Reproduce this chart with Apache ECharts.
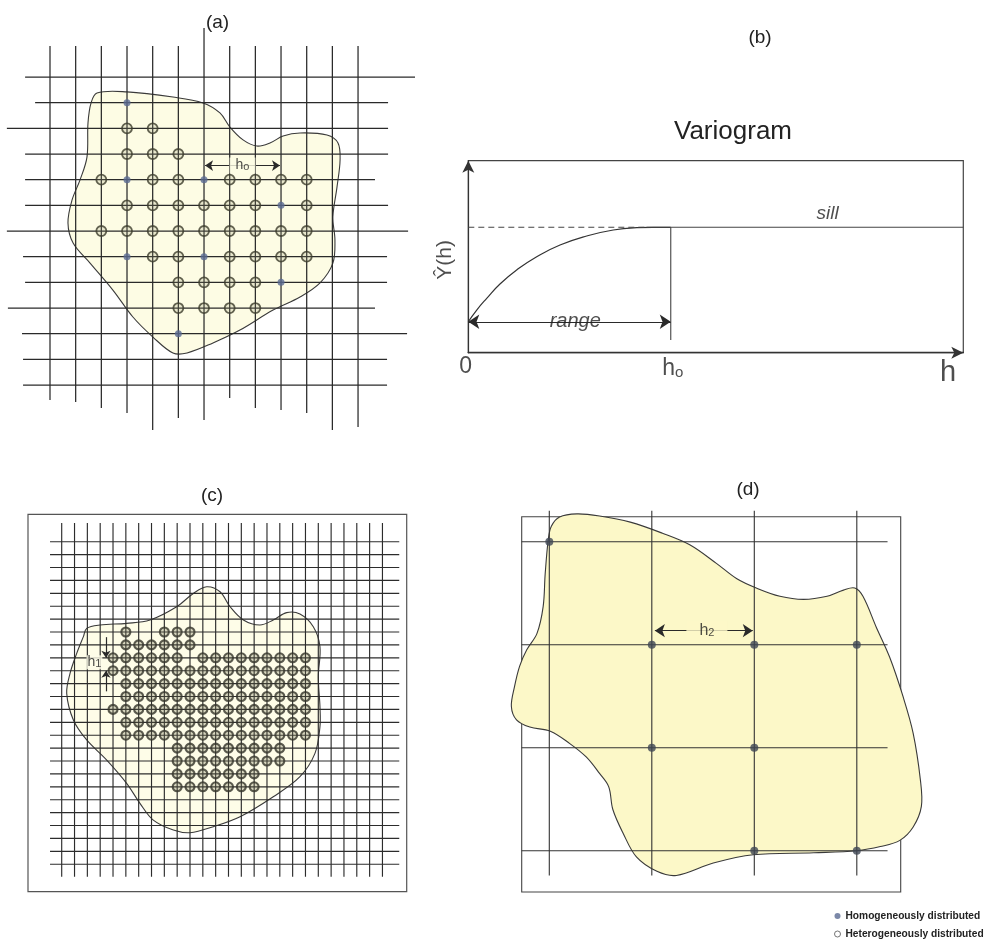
<!DOCTYPE html>
<html><head><meta charset="utf-8">
<script src="https://cdn.jsdelivr.net/npm/echarts@6/dist/echarts.min.js"></script>
<style>html,body{margin:0;padding:0;background:#fff}#c{width:990px;height:951px}</style>
</head><body><div id="c"></div>
<script>
// ================= DATA =================
// ---- Panel (a): coarse sampling grid, units = grid cells (col index, row index) ----
const aRowStart  = [-0.97,-0.58,-1.68,-0.97,-0.97,-0.97,-1.68,-1.05,-0.97,-1.64,-1.09,-1.05,-1.05];
const aRowEnd    = [14.22,13.17,13.17,13.17,12.66,13.17,13.95,13.13,13.13,12.66,13.91,13.13,13.13];
const aColTop    = [-1.21,-1.21,-1.21,-1.21,-1.21,-1.21,-1.91,-1.21,-1.21,-1.21,-1.21,-1.21,-1.21];
const aColBottom = [12.58,12.66,12.89,13.09,13.75,13.28,13.36,12.50,12.89,12.97,13.09,13.75,13.63];
const aHetero = [[3,2],[4,2],[3,3],[4,3],[5,3],
  [2,4],[4,4],[5,4],[7,4],[8,4],[9,4],[10,4],
  [3,5],[4,5],[5,5],[6,5],[7,5],[8,5],[10,5],
  [2,6],[3,6],[4,6],[5,6],[6,6],[7,6],[8,6],[9,6],[10,6],
  [4,7],[5,7],[7,7],[8,7],[9,7],[10,7],
  [5,8],[6,8],[7,8],[8,8],
  [5,9],[6,9],[7,9],[8,9]];
const aHomog = [[3,1],[3,4],[6,4],[9,5],[3,7],[6,7],[9,8],[5,10]];
const aBlob = [[1.83,0.62],[3.0,0.58],[4.79,0.78],[5.96,1.01],[6.62,1.40],[7.01,1.95],[7.52,2.45],[8.06,2.69],
  [8.57,2.57],[9.08,2.30],[9.74,2.18],[10.79,2.26],[11.22,2.57],[11.30,3.23],[11.18,4.29],[11.02,5.45],
  [11.10,6.35],[11.02,7.25],[10.52,8.02],[9.74,8.57],[8.69,9.08],[7.40,9.86],[6.35,10.36],[5.34,10.75],
  [4.79,10.75],[4.01,10.13],[3.23,9.35],[2.45,8.30],[1.56,7.25],[0.90,6.47],[0.70,5.69],[0.86,4.79],
  [1.17,4.01],[1.44,3.12],[1.48,1.79],[1.60,1.01]];
const aLagFrom = 6.04, aLagTo = 8.96, aLagRow = 3.45;

// ---- Panel (b): variogram, units: h 0..100, gamma 0..100 ----
const bCurve = [[0,16.1],[1.7,22.2],[3.72,28.3],[6.4,35.8],[9.78,43.1],[13.82,50.0],[18.53,56.1],
  [23.92,60.8],[29.29,63.9],[34.02,65.1],[37.37,65.3],[40.9,65.3]];
const bSill = 65.3, bH0 = 40.9, bNugget = 16.1, bDashEnd = 36, bH0Bottom = 6.6;

// ---- Panel (c): fine grid (cell units) ----
const cLines = [0,1,2,3,4,5,6,7,8,9,10,11,12,13,14,15,16,17,18,19,20,21,22,23,24,25];
const cRowStart = -0.91, cRowEnd = 26.31, cColTop = -1.45, cColBottom = 25.97;
const cDotRows = {
  7:[5,8,9,10],
  8:[5,6,7,8,9,10],
  9:[4,5,6,7,8,9,11,12,13,14,15,16,17,18,19],
  10:[4,5,6,7,8,9,10,11,12,13,14,15,16,17,18,19],
  11:[5,6,7,8,9,10,11,12,13,14,15,16,17,18,19],
  12:[5,6,7,8,9,10,11,12,13,14,15,16,17,18,19],
  13:[4,5,6,7,8,9,10,11,12,13,14,15,16,17,18,19],
  14:[5,6,7,8,9,10,11,12,13,14,15,16,17,18,19],
  15:[5,6,7,8,9,10,11,12,13,14,15,16,17,18,19],
  16:[9,10,11,12,13,14,15,16,17],
  17:[9,10,11,12,13,14,15,16,17],
  18:[9,10,11,12,13,14,15],
  19:[9,10,11,12,13,14,15]
};
const cBlob = [[1.95,6.72],[2.99,6.46],[5.06,6.33],[6.88,6.07],[8.96,5.04],[10.26,4.01],[11.30,3.49],
  [12.34,3.88],[13.12,5.04],[14.16,6.07],[15.45,6.46],[16.49,6.07],[17.53,5.50],[18.57,5.61],[19.61,6.59],
  [20.13,8.14],[20.00,10.47],[20.13,12.79],[20.13,14.34],[19.74,16.41],[18.57,18.22],[16.49,19.77],
  [13.90,21.32],[11.82,22.09],[10.0,22.56],[8.70,22.35],[7.14,21.58],[6.10,20.28],[5.06,18.73],
  [3.51,16.93],[1.95,15.37],[0.91,13.82],[0.39,11.76],[0.65,10.21],[1.17,8.66],[1.69,7.36]];
const cLagX = 3.45, cLagRows = [9,10];

// ---- Panel (d): coarse grid (cell units) ----
const dLines = [0,1,2,3];
const dRowStart = -0.27, dRowEnd = 3.30, dColTop = -0.30, dColBottom = 3.24;
const dDots = [[0,0],[1,1],[2,1],[3,1],[1,2],[2,2],[2,3],[3,3]];
const dBlob = [[0.02,-0.15],[0.10,-0.24],[0.27,-0.27],[0.49,-0.25],[0.79,-0.19],[1.11,-0.08],[1.37,0.03],
  [1.63,0.21],[1.83,0.36],[2.02,0.45],[2.25,0.53],[2.48,0.56],[2.71,0.53],[2.87,0.47],[2.98,0.45],[3.06,0.53],
  [3.19,0.83],[3.32,1.12],[3.45,1.50],[3.55,1.86],[3.62,2.31],[3.63,2.57],[3.55,2.77],[3.42,2.90],[3.23,2.96],
  [3.00,3.00],[2.58,3.02],[1.99,3.04],[1.60,3.12],[1.24,3.24],[1.05,3.20],[0.85,3.06],[0.72,2.83],[0.62,2.60],
  [0.58,2.38],[0.49,2.25],[0.36,2.09],[0.20,1.96],[0.01,1.84],[-0.19,1.80],[-0.32,1.73],[-0.37,1.60],
  [-0.34,1.41],[-0.29,1.21],[-0.22,1.05],[-0.12,0.89],[-0.06,0.63],[-0.04,0.31],[-0.01,-0.02]];
const dLagFrom = 1.03, dLagTo = 1.985, dLagRow = 0.864;

const seriesHomog = 'Homogeneously distributed';
const seriesHetero = 'Heterogeneously distributed';

// ================= LAYOUT =================
const FONT = '"Liberation Sans", Arial, Helvetica, sans-serif';
const A = {cx:25.67, cy:25.67, ox:50, oy:77, xMin:-1.9, xMax:14.5, yMin:-2, yMax:14.5};
const C = {cx:12.83, cy:12.9, ox:61.7, oy:541.7, box:[28,514.3,406.7,891.7]};
const D = {cx:102.5, cy:103, ox:549.3, oy:541.7, box:[521.7,516.7,900.7,892]};
const B = {box:[468.3,160.7,963.3,352.7]};
C.xMin=(C.box[0]-C.ox)/C.cx; C.xMax=(C.box[2]-C.ox)/C.cx; C.yMin=(C.box[1]-C.oy)/C.cy; C.yMax=(C.box[3]-C.oy)/C.cy;
D.xMin=(D.box[0]-D.ox)/D.cx; D.xMax=(D.box[2]-D.ox)/D.cx; D.yMin=(D.box[1]-D.oy)/D.cy; D.yMax=(D.box[3]-D.oy)/D.cy;

// ================= BUILD =================
function segRender(color, width){
  return function(params, api){
    const p1 = api.coord([api.value(0), api.value(1)]);
    const p2 = api.coord([api.value(2), api.value(3)]);
    return {type:'line', silent:true, shape:{x1:p1[0],y1:p1[1],x2:p2[0],y2:p2[1]}, style:{stroke:color, lineWidth:width}};
  };
}
function blobRender(points, fill){
  return function(params, api){
    const pts = points.map(p => api.coord(p));
    return {type:'polygon', silent:true, shape:{points:pts, smooth:0.35}, style:{fill:fill, stroke:'#3a3a3a', lineWidth:1.1}};
  };
}
function segSeries(idx, data, color, width, z){
  return {type:'custom', xAxisIndex:idx, yAxisIndex:idx, renderItem:segRender(color,width), data:data, z:z, silent:true, animation:false};
}
function blobSeries(idx, pts, fill){
  return {type:'custom', xAxisIndex:idx, yAxisIndex:idx, renderItem:blobRender(pts,fill), data:[pts[0]], z:1, silent:true, animation:false};
}
function textSeries(idx, items){
  return {type:'scatter', xAxisIndex:idx, yAxisIndex:idx, symbolSize:1, clip:false, silent:true, z:20,
    itemStyle:{color:'rgba(0,0,0,0)'},
    data: items.map(t => ({value:[t.x,t.y], label:Object.assign({show:true, position:'inside', color:'#222', fontFamily:FONT}, t.label)}))};
}
function arrowLine(p1, p2, sym, size){
  return [{coord:p1, symbol:sym[0], symbolSize:size}, {coord:p2, symbol:sym[1], symbolSize:size}];
}
function markLines(lines){
  return {silent:true, animation:false, symbol:['arrow','arrow'], label:{show:false}, emphasis:{disabled:true},
    lineStyle:{color:'#2a2a2a', width:1.2, type:'solid'}, data:lines};
}

// panel a segments
const aSegs = [];
aRowStart.forEach((s,j)=>aSegs.push([s,j,aRowEnd[j],j]));
aColTop.forEach((t,i)=>aSegs.push([i,t,i,aColBottom[i]]));
// panel c segments
const cSegs = [];
cLines.forEach(j=>cSegs.push([cRowStart,j,cRowEnd,j]));
cLines.forEach(i=>cSegs.push([i,cColTop,i,cColBottom]));
const cDots = [];
Object.keys(cDotRows).forEach(r=>cDotRows[r].forEach(c=>cDots.push([c, +r])));
// panel d segments
const dSegs = [];
dLines.forEach(j=>dSegs.push([dRowStart,j,dRowEnd,j]));
dLines.forEach(i=>dSegs.push([i,dColTop,i,dColBottom]));

const subRich = (big, small, w) => ({m:{fontSize:big, fontFamily:FONT, fontWeight:w||'normal', color:'#222', verticalAlign:'bottom'}, s:{fontSize:small, fontFamily:FONT, fontWeight:w||'normal', color:'#222', verticalAlign:'bottom'}});

const option = {
  animation:false,
  backgroundColor:'#fff',
  grid:[
    {left:A.ox+A.xMin*A.cx, top:A.oy+A.yMin*A.cy, width:(A.xMax-A.xMin)*A.cx, height:(A.yMax-A.yMin)*A.cy, show:false},
    {left:B.box[0], top:B.box[1], width:B.box[2]-B.box[0], height:B.box[3]-B.box[1], show:true, borderColor:'#444', borderWidth:1.2, backgroundColor:'transparent'},
    {left:C.box[0], top:C.box[1], width:C.box[2]-C.box[0], height:C.box[3]-C.box[1], show:true, borderColor:'#555', borderWidth:1.2, backgroundColor:'transparent'},
    {left:D.box[0], top:D.box[1], width:D.box[2]-D.box[0], height:D.box[3]-D.box[1], show:true, borderColor:'#444', borderWidth:1.1, backgroundColor:'transparent'}
  ],
  xAxis:[
    {type:'value', gridIndex:0, min:A.xMin, max:A.xMax, show:false},
    {type:'value', gridIndex:1, min:0, max:100, position:'bottom',
      axisLine:{show:true, onZero:false, symbol:['none','arrow'], symbolSize:[9,12], lineStyle:{color:'#333', width:1.4}},
      axisTick:{show:false}, axisLabel:{show:false}, splitLine:{show:false}},
    {type:'value', gridIndex:2, min:C.xMin, max:C.xMax, show:false},
    {type:'value', gridIndex:3, min:D.xMin, max:D.xMax, show:false}
  ],
  yAxis:[
    {type:'value', gridIndex:0, min:A.yMin, max:A.yMax, inverse:true, show:false},
    {type:'value', gridIndex:1, min:0, max:100, position:'left',
      axisLine:{show:true, onZero:false, symbol:['none','arrow'], symbolSize:[9,12], lineStyle:{color:'#333', width:1.2}},
      axisTick:{show:false}, axisLabel:{show:false}, splitLine:{show:false}},
    {type:'value', gridIndex:2, min:C.yMin, max:C.yMax, inverse:true, show:false},
    {type:'value', gridIndex:3, min:D.yMin, max:D.yMax, inverse:true, show:false}
  ],
  legend:{
    orient:'vertical', left:829, top:906, itemWidth:6, itemHeight:6, itemGap:8, selectedMode:false,
    textStyle:{fontFamily:FONT, fontSize:10.2, fontWeight:'bold', color:'#222'},
    data:[
      {name:seriesHomog, icon:'circle', itemStyle:{color:'#5a6a92', borderWidth:0}},
      {name:seriesHetero, icon:'circle', itemStyle:{color:'#fff', borderColor:'#555', borderWidth:1}}
    ]
  },
  graphic:[
    {type:'text', x:217.5, y:22.5, style:{text:'(a)', font:'19px '+FONT, fill:'#222', align:'center', verticalAlign:'middle'}},
    {type:'text', x:760, y:38, style:{text:'(b)', font:'19px '+FONT, fill:'#222', align:'center', verticalAlign:'middle'}},
    {type:'text', x:733, y:132, style:{text:'Variogram', font:'26px '+FONT, fill:'#222', align:'center', verticalAlign:'middle'}},
    {type:'text', x:212, y:496, style:{text:'(c)', font:'19px '+FONT, fill:'#222', align:'center', verticalAlign:'middle'}},
    {type:'text', x:748, y:490, style:{text:'(d)', font:'19px '+FONT, fill:'#222', align:'center', verticalAlign:'middle'}}
  ],
  series:[
    // ----- (a) -----
    blobSeries(0, aBlob, '#fdfce4'),
    segSeries(0, aSegs, '#2a2a2a', 1.25, 2),
    {type:'scatter', name:seriesHetero, xAxisIndex:0, yAxisIndex:0, data:aHetero, symbol:'circle', symbolSize:10, z:5, silent:true,
      itemStyle:{color:'rgba(150,150,110,0.25)', borderColor:'#3c3c2c', borderWidth:1.8},
      markLine: markLines([arrowLine([aLagFrom,aLagRow],[aLagTo,aLagRow],['arrow','arrow'],8)])},
    {type:'scatter', name:seriesHomog, xAxisIndex:0, yAxisIndex:0, data:aHomog, symbol:'circle', symbolSize:7, z:6, silent:true,
      itemStyle:{color:'#5a6a92'}},
    textSeries(0, [{x:(aLagFrom+aLagTo)/2, y:aLagRow, label:{formatter:'{m|h}{s|o}', rich:subRich(14,11), backgroundColor:'#fdfce4', padding:[1,6,1,6]}}]),
    // ----- (b) -----
    {type:'line', xAxisIndex:1, yAxisIndex:1, data:bCurve, smooth:true, symbol:'none', silent:true, z:3,
      lineStyle:{color:'#333', width:1.2},
      markLine: markLines([arrowLine([0,bNugget],[bH0,bNugget],['arrow','arrow'],11)])},
    {type:'line', xAxisIndex:1, yAxisIndex:1, data:[[0,bSill],[bDashEnd,bSill]], symbol:'none', silent:true,
      lineStyle:{color:'#444', width:1.1, type:[6,4]}},
    {type:'line', xAxisIndex:1, yAxisIndex:1, data:[[bDashEnd,bSill],[100,bSill]], symbol:'none', silent:true,
      lineStyle:{color:'#444', width:1.1}},
    {type:'line', xAxisIndex:1, yAxisIndex:1, data:[[bH0,bSill],[bH0,bH0Bottom]], symbol:'none', silent:true,
      lineStyle:{color:'#444', width:1.1}},
    textSeries(1, [
      {x:-0.53, y:-7.3, label:{formatter:'0', fontSize:23}},
      {x:41.3, y:-8.3, label:{formatter:'{m|h}{s|o}', rich:subRich(23,15)}},
      {x:96.9, y:-10.7, label:{formatter:'h', fontSize:29}},
      {x:-4.7, y:48.3, label:{formatter:'Ŷ(h)', fontSize:21, rotate:90}},
      {x:72.6, y:72.2, label:{formatter:'sill', fontSize:19, fontStyle:'italic'}},
      {x:21.6, y:bNugget+0.3, label:{formatter:'range', fontSize:20, fontStyle:'italic'}}
    ]),
    // ----- (c) -----
    blobSeries(2, cBlob, '#fefde8'),
    segSeries(2, cSegs, '#2c2c2c', 1.15, 2),
    {type:'scatter', name:seriesHetero, xAxisIndex:2, yAxisIndex:2, data:cDots, symbol:'circle', symbolSize:9, z:5, silent:true,
      itemStyle:{color:'rgba(110,110,80,0.35)', borderColor:'#34342a', borderWidth:2.1},
      markLine: markLines([
        arrowLine([cLagX,cLagRows[0]-1.6],[cLagX,cLagRows[0]],['none','arrow'],7),
        arrowLine([cLagX,cLagRows[1]+1.6],[cLagX,cLagRows[1]],['none','arrow'],7)
      ])},
    textSeries(2, [{x:2.55, y:9.35, label:{formatter:'{m|h}{s|1}', rich:subRich(14,11), backgroundColor:'#fefde8', padding:[0,1,0,1]}}]),
    // ----- (d) -----
    blobSeries(3, dBlob, '#fcf8c8'),
    segSeries(3, dSegs, '#333', 1.1, 2),
    {type:'scatter', name:seriesHomog, xAxisIndex:3, yAxisIndex:3, data:dDots, symbol:'circle', symbolSize:8, z:5, silent:true,
      itemStyle:{color:'#3e4654'},
      markLine: markLines([arrowLine([dLagFrom,dLagRow],[dLagTo,dLagRow],['arrow','arrow'],10)])},
    textSeries(3, [{x:(dLagFrom+dLagTo)/2+0.03, y:dLagRow, label:{formatter:'{m|h}{s|2}', rich:subRich(16,11), backgroundColor:'#fcf8c8', padding:[2,13,2,13]}}])
  ]
};
const chart = echarts.init(document.getElementById('c'));
chart.setOption(option);
</script>
</body></html>
